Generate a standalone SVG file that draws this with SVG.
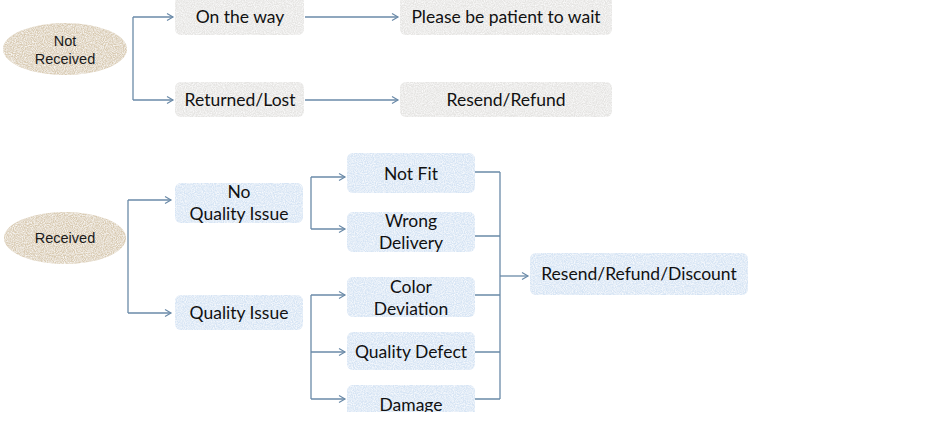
<svg xmlns="http://www.w3.org/2000/svg" width="952" height="422" viewBox="0 0 952 422">
<style>
.gray{fill:#e5e4e2;}
.blue{fill:#d6e4f4;}
.tan{fill:#d9cbb2;}
.t{font-family:Lato,"Open Sans",sans-serif;font-size:17.5px;fill:#111;text-anchor:middle;}
.e{font-family:"Liberation Sans",Arial,sans-serif;font-size:14.5px;fill:#1a1a1a;text-anchor:middle;}
.c{fill:none;stroke:#6a8aa8;stroke-width:1.3;}
.a{fill:none;stroke:#6a8aa8;stroke-width:1.3;marker-end:url(#arr);}
</style>
<defs>
<marker id="arr" markerWidth="10" markerHeight="10" refX="8" refY="5" orient="auto" markerUnits="userSpaceOnUse">
<path d="M2,1.5 L8,5 L2,8.5" fill="none" stroke="#6a8aa8" stroke-width="1.2"/>
</marker>
<filter id="tex" x="0" y="0" width="1" height="1">
<feTurbulence type="fractalNoise" baseFrequency="0.9" numOctaves="2" seed="3" result="n"/>
<feColorMatrix in="n" type="matrix" values="0 0 0 0 1  0 0 0 0 1  0 0 0 0 1  0 0 0 -1.6 1.1" result="w"/>
<feComposite in="w" in2="SourceGraphic" operator="in" result="wm"/>
<feMerge><feMergeNode in="SourceGraphic"/><feMergeNode in="wm"/></feMerge>
</filter>
</defs>
<rect width="952" height="422" fill="#ffffff"/>

<g id="connectors">
<path class="c" d="M133,17 V100"/>
<path class="a" d="M133,17 H173"/>
<path class="a" d="M133,100 H173"/>
<path class="a" d="M305,17 H398"/>
<path class="a" d="M305,100 H398"/>
<path class="c" d="M128,200 V313"/>
<path class="a" d="M128,200 H171"/>
<path class="a" d="M128,313 H171"/>
<path class="c" d="M311,177 V229"/>
<path class="a" d="M311,177 H345"/>
<path class="a" d="M311,229 H345"/>
<path class="c" d="M311,295 V399"/>
<path class="a" d="M311,295 H345"/>
<path class="a" d="M311,352 H345"/>
<path class="a" d="M311,399 H345"/>
<path class="c" d="M475,172 H500 M475,236 H500 M475,295 H500 M475,352 H500 M475,399 H500 M500,172 V399"/>
<path class="a" d="M500,276 H528"/>
</g>

<g id="not-received"><ellipse class="tan" filter="url(#tex)" cx="65" cy="49" rx="62" ry="26"/><text class="e" x="65" y="46">Not</text><text class="e" x="65" y="64">Received</text></g>
<g id="on-the-way"><rect class="gray" filter="url(#tex)" x="175" y="-4" width="129" height="39" rx="6"/><text class="t" x="240" y="23">On the way</text></g>
<g id="please-wait"><rect class="gray" filter="url(#tex)" x="400" y="-4" width="212" height="39" rx="6"/><text class="t" x="506" y="23">Please be patient to wait</text></g>
<g id="returned-lost"><rect class="gray" filter="url(#tex)" x="175" y="82" width="129" height="35" rx="6"/><text class="t" x="240" y="106">Returned/Lost</text></g>
<g id="resend-refund"><rect class="gray" filter="url(#tex)" x="400" y="82" width="212" height="35" rx="6"/><text class="t" x="506" y="106">Resend/Refund</text></g>

<g id="received"><ellipse class="tan" filter="url(#tex)" cx="65" cy="238" rx="61" ry="26"/><text class="e" x="65" y="243">Received</text></g>
<g id="no-quality-issue"><rect class="blue" filter="url(#tex)" x="175" y="183" width="128" height="40" rx="6"/><text class="t" x="239" y="198">No</text><text class="t" x="239" y="220">Quality Issue</text></g>
<g id="quality-issue"><rect class="blue" filter="url(#tex)" x="175" y="295" width="128" height="35" rx="6"/><text class="t" x="239" y="319">Quality Issue</text></g>
<g id="not-fit"><rect class="blue" filter="url(#tex)" x="347" y="153" width="128" height="40" rx="6"/><text class="t" x="411" y="180">Not Fit</text></g>
<g id="wrong-delivery"><rect class="blue" filter="url(#tex)" x="347" y="212" width="128" height="40" rx="6"/><text class="t" x="411" y="227">Wrong</text><text class="t" x="411" y="249">Delivery</text></g>
<g id="color-deviation"><rect class="blue" filter="url(#tex)" x="347" y="277" width="128" height="40" rx="6"/><text class="t" x="411" y="293">Color</text><text class="t" x="411" y="315">Deviation</text></g>
<g id="quality-defect"><rect class="blue" filter="url(#tex)" x="347" y="332" width="128" height="38" rx="6"/><text class="t" x="411" y="358">Quality Defect</text></g>
<g id="damage"><rect class="blue" filter="url(#tex)" x="347" y="385" width="128" height="40" rx="6"/><text class="t" x="411" y="411">Damage</text></g>
<g id="resend-refund-discount"><rect class="blue" filter="url(#tex)" x="530" y="253" width="218" height="42" rx="6"/><text class="t" x="639" y="280">Resend/Refund/Discount</text></g>
<rect x="0" y="412" width="952" height="10" fill="#ffffff"/>
</svg>
